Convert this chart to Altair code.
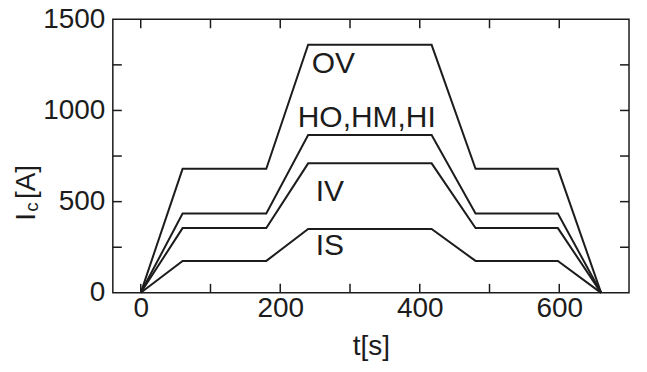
import altair as alt
import pandas as pd

# time points [s]
t = [0, 60, 180, 240, 417, 480, 598, 660]
# critical current [A] per coil group
ov = [0, 680, 680, 1360, 1360, 680, 680, 0]
ho = [0, 435, 435, 865, 865, 435, 435, 0]
iv = [0, 355, 355, 710, 710, 355, 355, 0]
is_ = [0, 175, 175, 350, 350, 175, 175, 0]

series_names = ["OV", "HO,HM,HI", "IV", "IS"]
label_t = [276, 324, 271, 271]
label_i = [1257, 959, 553, 255]

x_tick_vals = [0, 100, 200, 300, 400, 500, 600]
y_tick_vals = [250, 500, 750, 1000, 1250]
x_label_vals = [0, 200, 400, 600]
y_label_vals = [0, 500, 1000, 1500]

W, H = 517, 274
INK = "#1c1c1c"
FONT = "Liberation Sans"

rows = []
for name, vals in zip(series_names, [ov, ho, iv, is_]):
    for tt, v in zip(t, vals):
        rows.append({"series": name, "t": tt, "I": v})
df = pd.DataFrame(rows)
lab = pd.DataFrame({"text": series_names, "t": label_t, "I": label_i})
xt = pd.DataFrame({"v": x_tick_vals})
yt = pd.DataFrame({"v": y_tick_vals})

xs = alt.Scale(domain=[-40, 700], nice=False, zero=False)
ys = alt.Scale(domain=[0, 1500], nice=False)

lines = alt.Chart(df).mark_line(color=INK, strokeWidth=2).encode(
    x=alt.X("t:Q", scale=xs, title="t[s]",
            axis=alt.Axis(values=x_label_vals, format="d", ticks=False, tickSize=0, domain=False,
                          grid=False, labelFontSize=28, labelFont=FONT, labelColor=INK,
                          labelPadding=2, titleFontSize=28, titleFont=FONT,
                          titleFontWeight="normal", titleColor=INK, titlePadding=10)),
    y=alt.Y("I:Q", scale=ys, title=None,
            axis=alt.Axis(values=y_label_vals, format="d", ticks=False, tickSize=0, domain=False,
                          grid=False, labelFontSize=28, labelFont=FONT, labelColor=INK,
                          labelPadding=8)),
    detail="series:N",
)

labels = alt.Chart(lab).mark_text(font=FONT, fontSize=30, color=INK, align="center",
                                  baseline="middle").encode(
    x=alt.X("t:Q", scale=xs), y=alt.Y("I:Q", scale=ys), text="text:N")

tl = 9
tick_bottom = alt.Chart(xt).mark_rule(color=INK, strokeWidth=1.5).encode(
    x=alt.X("v:Q", scale=xs), y=alt.value(H), y2=alt.value(H - tl))
tick_top = alt.Chart(xt).mark_rule(color=INK, strokeWidth=1.5).encode(
    x=alt.X("v:Q", scale=xs), y=alt.value(0), y2=alt.value(tl))
tick_left = alt.Chart(yt).mark_rule(color=INK, strokeWidth=1.5).encode(
    y=alt.Y("v:Q", scale=ys), x=alt.value(0), x2=alt.value(tl))
tick_right = alt.Chart(yt).mark_rule(color=INK, strokeWidth=1.5).encode(
    y=alt.Y("v:Q", scale=ys), x=alt.value(W), x2=alt.value(W - tl))

ytitle_I = alt.Chart(pd.DataFrame({"s": ["I"]})).mark_text(
    font=FONT, fontSize=28, color=INK, angle=270, align="center", baseline="alphabetic").encode(
    x=alt.value(-78), y=alt.value(198), text="s:N")
ytitle_c = alt.Chart(pd.DataFrame({"s": ["c"]})).mark_text(
    font=FONT, fontSize=19, color=INK, angle=270, align="center", baseline="alphabetic").encode(
    x=alt.value(-75), y=alt.value(188), text="s:N")
ytitle_A = alt.Chart(pd.DataFrame({"s": ["[A]"]})).mark_text(
    font=FONT, fontSize=28, color=INK, angle=270, align="center", baseline="alphabetic").encode(
    x=alt.value(-78), y=alt.value(163), text="s:N")

chart = alt.layer(lines, labels, tick_bottom, tick_top, tick_left, tick_right,
                  ytitle_I, ytitle_c, ytitle_A).properties(
    width=W, height=H,
    autosize=alt.AutoSizeParams(type="none"),
    padding={"left": 105, "top": 11, "right": 10, "bottom": 70},
    background="white",
).configure_view(stroke=INK, strokeWidth=1.5)

chart.save("out.html", embed_options={"renderer": "svg", "actions": False})
